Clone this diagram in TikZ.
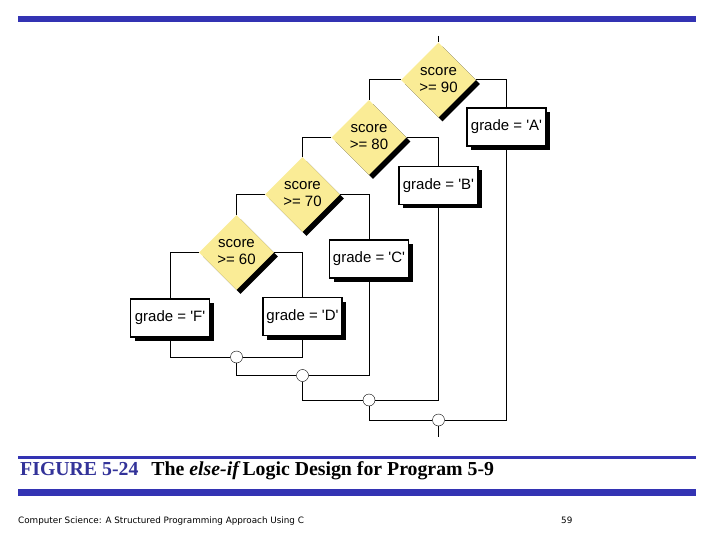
\documentclass[tikz,border=0pt]{standalone}
\usepackage{fontspec}
\setmainfont{Liberation Sans}[Ligatures=TeXOff]
\newfontfamily\capfont{Liberation Serif}
\newfontfamily\footfont{DejaVu Sans}
\usetikzlibrary{shapes.geometric,shadows}
\definecolor{barblue}{RGB}{51,51,179}
\definecolor{capblue}{RGB}{51,51,153}
\definecolor{testyellow}{RGB}{250,236,150}
\tikzset{
  test/.style={diamond,fill=testyellow,minimum size=75pt,inner sep=0pt,align=center,
    font=\fontsize{15}{17}\selectfont,
    drop shadow={shadow xshift=4pt,shadow yshift=-4pt,fill=black,opacity=1}},
  action/.style={rectangle,draw,fill=white,line width=1.2pt,minimum width=79pt,minimum height=38pt,
    inner sep=1pt,font=\fontsize{15}{17}\selectfont,
    drop shadow={shadow xshift=4pt,shadow yshift=-4pt,fill=black,opacity=1}},
  connector/.style={circle,draw,fill=white,minimum size=12pt,inner sep=0pt},
  flow/.style={line width=1pt}
}
\begin{document}
\begin{tikzpicture}[x=1pt,y=-1pt]
\useasboundingbox (0,0) rectangle (720,540);
% bars
\fill[barblue] (18,16) rectangle (696,22.5);
\fill[barblue] (18,456) rectangle (696,458.5);
\fill[barblue] (18,489) rectangle (696,495.5);
% tests
\node[test] (d90) at (438.5,80) {score\\>= 90};
\node[test] (d80) at (369,137.5) {score\\>= 80};
\node[test] (d70) at (302.5,194.5) {score\\>= 70};
\node[test] (d60) at (236.5,252.5) {score\\>= 60};
% actions
\node[action] (gA) at (506.5,127) {grade = 'A'};
\node[action] (gB) at (438.5,185.5) {grade = 'B'};
\node[action] (gC) at (369,259) {grade = 'C'};
\node[action] (gD) at (302.5,316.5) {grade = 'D'};
\node[action] (gF) at (170,318) {grade = 'F'};
% connectors
\node[connector] (j1) at (236.5,357) {};
\node[connector] (j2) at (302.5,375.5) {};
\node[connector] (j3) at (369,400) {};
\node[connector] (j4) at (438.5,420) {};
\coordinate (start) at (438.5,36);
\coordinate (stop) at (438.5,437);
% lines
\draw[flow] (start) -- (d90.north);
\draw[flow] (d90.west) -| (d80.north);
\draw[flow] (d90.east) -| (gA.north);
\draw[flow] (d80.west) -| (d70.north);
\draw[flow] (d80.east) -| (gB.north);
\draw[flow] (d70.west) -| (d60.north);
\draw[flow] (d70.east) -| (gC.north);
\draw[flow] (d60.west) -| (gF.north);
\draw[flow] (d60.east) -| (gD.north);
\draw[flow] (gF.south) |- (j1.west);
\draw[flow] (gD.south) |- (j1.east);
\draw[flow] (j1.south) |- (j2.west);
\draw[flow] (gC.south) |- (j2.east);
\draw[flow] (j2.south) |- (j3.west);
\draw[flow] (gB.south) |- (j3.east);
\draw[flow] (j3.south) |- (j4.west);
\draw[flow] (gA.south) |- (j4.east);
\draw[flow] (j4.south) -- (stop);
% caption
\node[anchor=base west,inner sep=0pt,font=\capfont\bfseries\fontsize{19.8}{21}\selectfont] (cap) at (20,475)
  {\textcolor{capblue}{FIGURE 5-24}\hspace{13pt}The \textit{else-if}\hspace{2pt}Logic Design for Program 5-9};
\node[anchor=base west,inner sep=0pt,font=\footfont\fontsize{8.8}{10}\selectfont] (foot) at (18,523)
  {Computer Science: A Structured Programming Approach Using C};
\node[anchor=base west,inner sep=0pt,font=\footfont\fontsize{8.8}{10}\selectfont] (page) at (561,523) {59};
\end{tikzpicture}
\end{document}
